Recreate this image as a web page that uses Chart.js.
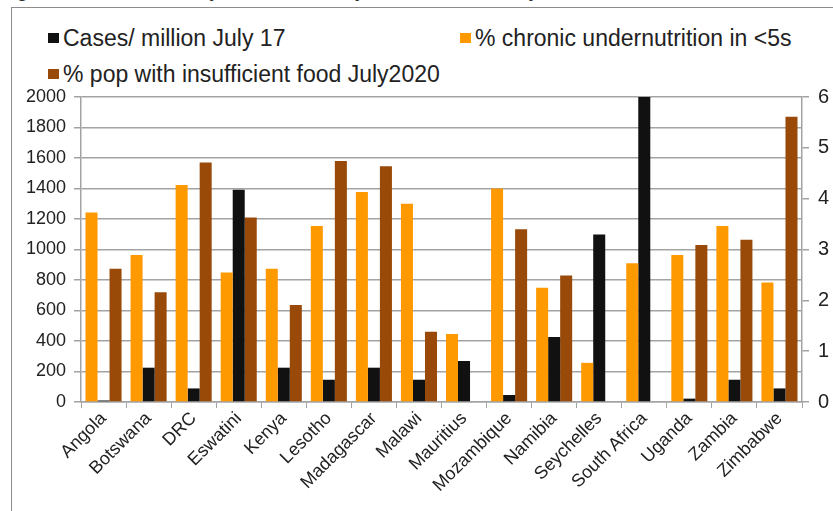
<!DOCTYPE html>
<html>
<head>
<meta charset="utf-8">
<script src="https://cdn.jsdelivr.net/npm/chart.js@4/dist/chart.umd.min.js"></script>
<style>
  html, body { margin: 0; padding: 0; width: 833px; height: 511px; overflow: hidden; background: #fff; }
  body { position: relative; font-family: "Liberation Sans", Arial, sans-serif; color: #222; }
  #title { position: absolute; left: -2px; top: -24px; font-size: 22px; white-space: nowrap; color: #222; }
  #wrap { position: absolute; left: 0; top: 0; width: 829px; height: 511px; overflow: hidden; }
  #frame { position: absolute; left: 11px; top: 7px; width: 900px; height: 600px; border: 1px solid #8c8c8c; box-sizing: border-box; }
  #chart { position: absolute; left: 0; top: 0; }
  .leg { position: absolute; font-size: 23px; white-space: nowrap; line-height: 23px; }
  .leg i { position: absolute; left: -15px; top: 6px; width: 11px; height: 10px; }
</style>
</head>
<body>
<div id="title">Figure 1: Case data by SADC country and food security</div>
<div id="frame"></div>
<div id="legend"></div>
<div id="wrap"><canvas id="chart" width="880" height="560"></canvas></div>
<script>
// ðŸŽ¯ Data
const countries = ["Angola", "Botswana", "DRC", "Eswatini", "Kenya", "Lesotho", "Madagascar", "Malawi",
  "Mauritius", "Mozambique", "Namibia", "Seychelles", "South Africa", "Uganda", "Zambia", "Zimbabwe"];
const casesPerMillion = [10, 225, 89, 1392, 225, 146, 225, 146, 269, 46, 426, 1099, 2000, 22, 146, 89];
const chronicUndernutrition = [37.3, 28.9, 42.7, 25.5, 26.2, 34.6, 41.3, 39.0, 13.4, 42.0, 22.5, 7.7, 27.3, 28.9, 34.6, 23.5];
const insufficientFood = [26.2, 21.6, 47.1, 36.3, 19.1, 47.4, 46.4, 13.8, null, 34.0, 24.9, null, null, 30.9, 31.9, 56.1];
const leftTicks = [0, 200, 400, 600, 800, 1000, 1200, 1400, 1600, 1800, 2000];
const rightTicks = [0, 10, 20, 30, 40, 50, 60];

const BLACK = "#111111";
const ORANGE = "#ff9900";
const BROWN = "#994a08";
const GRID = "#a3a3a3";
const TEXT = "#222222";

Chart.defaults.font.family = "'Liberation Sans', Arial, sans-serif";
Chart.defaults.color = TEXT;

// bars sit orange / black / brown inside each group
const datasets = [
  { label: "% chronic undernutrition in <5s", data: chronicUndernutrition, backgroundColor: ORANGE, yAxisID: "y1" },
  { label: "Cases/ million July 17", data: casesPerMillion, backgroundColor: BLACK, yAxisID: "y" },
  { label: "% pop with insufficient food July2020", data: insufficientFood, backgroundColor: BROWN, yAxisID: "y1" }
];

// ðŸŽ¯ Legend (two columns, cases first)
const legendSpots = [
  { ds: 1, left: 63, top: 27 },
  { ds: 0, left: 475, top: 27 },
  { ds: 2, left: 63, top: 63 }
];
const legendEl = document.getElementById("legend");
legendSpots.forEach(s => {
  const d = datasets[s.ds];
  const div = document.createElement("div");
  div.className = "leg";
  div.style.left = s.left + "px";
  div.style.top = s.top + "px";
  div.innerHTML = '<i style="background:' + d.backgroundColor + '"></i>';
  div.appendChild(document.createTextNode(d.label));
  legendEl.appendChild(div);
});

// ðŸŽ¯ Chart
const ctx = document.getElementById("chart").getContext("2d");
const chart = new Chart(ctx, {
  type: "bar",
  data: { labels: countries, datasets: datasets },
  options: {
    responsive: false,
    animation: false,
    layout: { padding: { top: 97, left: 0, right: 0, bottom: 0 } },
    datasets: { bar: { categoryPercentage: 0.8, barPercentage: 1.0 } },
    plugins: { legend: { display: false }, tooltip: { enabled: false } },
    scales: {
      x: {
        offset: true,
        grid: { offset: true, drawOnChartArea: false, drawTicks: true, tickLength: 6, color: GRID },
        border: { display: true, color: GRID, width: 1.5 },
        ticks: { autoSkip: false, maxRotation: 45, minRotation: 45, padding: 0, font: { size: 18 }, color: TEXT },
        afterFit: s => { s.height = 560 - 402; }
      },
      y: {
        position: "left",
        min: 0, max: 2000,
        afterBuildTicks: s => { s.ticks = leftTicks.map(v => ({ value: v })); },
        grid: { color: GRID, lineWidth: 1.5, tickLength: 7 },
        border: { display: true, color: GRID, width: 1.5 },
        ticks: { padding: 8, font: { size: 18 }, color: TEXT, callback: v => String(v) },
        afterFit: s => { s.width = 81; }
      },
      y1: {
        position: "right",
        min: 0, max: 60,
        afterBuildTicks: s => { s.ticks = rightTicks.map(v => ({ value: v })); },
        grid: { drawOnChartArea: false, color: GRID, lineWidth: 1.5, tickLength: 7 },
        border: { display: true, color: GRID, width: 1.5 },
        ticks: { padding: 9, font: { size: 20 }, color: TEXT, callback: v => String(v) },
        afterFit: s => { s.width = 880 - 802; }
      }
    }
  }
});
</script>
</body>
</html>
